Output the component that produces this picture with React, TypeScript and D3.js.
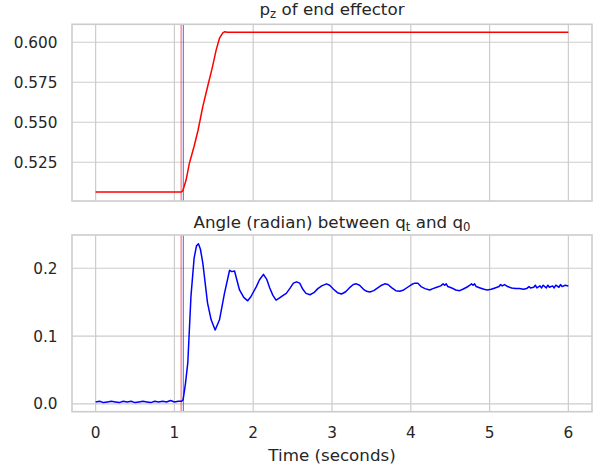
import React from "react";
import * as d3 from "d3";

// end effector z-position over time
const pzSeries: [number, number][] = [
  [0.0, 0.5064], [0.5, 0.5064], [1.0, 0.5064], [1.085, 0.5064], [1.106, 0.5072],
  [1.148, 0.5139], [1.19, 0.5244], [1.25, 0.535], [1.3, 0.545], [1.36, 0.5598],
  [1.42, 0.572], [1.48, 0.584], [1.53, 0.5952], [1.572, 0.6025], [1.614, 0.6058],
  [1.64, 0.6066], [1.67, 0.6063], [1.7, 0.6062], [2.0, 0.6062], [3.0, 0.6062], [4.0, 0.6062],
  [5.0, 0.6062], [6.0, 0.6062],
];

// angle between q_t and q_0 over time
const angleSeries: [number, number][] = [
  [0.0, 0.003], [0.05, 0.004], [0.1, 0.002], [0.15, 0.003], [0.2, 0.004], [0.25, 0.003],
  [0.3, 0.002], [0.35, 0.004], [0.4, 0.003], [0.45, 0.004], [0.5, 0.002], [0.55, 0.003],
  [0.6, 0.004], [0.65, 0.003], [0.7, 0.002], [0.75, 0.004], [0.8, 0.003], [0.85, 0.004],
  [0.9, 0.003], [0.95, 0.005], [1.0, 0.003], [1.05, 0.004], [1.09, 0.004], [1.11, 0.006],
  [1.14, 0.03], [1.17, 0.061], [1.21, 0.159], [1.25, 0.215], [1.28, 0.233], [1.305, 0.236],
  [1.33, 0.228], [1.36, 0.208], [1.42, 0.149], [1.466, 0.124], [1.517, 0.109], [1.572, 0.124],
  [1.635, 0.163], [1.7, 0.197], [1.73, 0.195], [1.763, 0.196], [1.826, 0.168], [1.88, 0.157],
  [1.93, 0.152], [1.97, 0.158], [2.04, 0.173], [2.08, 0.183], [2.13, 0.191], [2.17, 0.184],
  [2.21, 0.171], [2.25, 0.16], [2.29, 0.153], [2.33, 0.156], [2.38, 0.16], [2.42, 0.163],
  [2.47, 0.171], [2.51, 0.178], [2.55, 0.18], [2.59, 0.178], [2.63, 0.169], [2.67, 0.163],
  [2.72, 0.161], [2.77, 0.164], [2.82, 0.17], [2.87, 0.174], [2.93, 0.177], [2.97, 0.175],
  [3.02, 0.169], [3.07, 0.164], [3.12, 0.162], [3.17, 0.165], [3.22, 0.171], [3.27, 0.176],
  [3.31, 0.177], [3.35, 0.175], [3.4, 0.169], [3.44, 0.166], [3.48, 0.165], [3.53, 0.167],
  [3.58, 0.171], [3.63, 0.175], [3.67, 0.177], [3.71, 0.176], [3.76, 0.171], [3.81, 0.167],
  [3.86, 0.166], [3.91, 0.168], [3.96, 0.172], [4.01, 0.176], [4.05, 0.178], [4.09, 0.178],
  [4.13, 0.173], [4.18, 0.17], [4.24, 0.168], [4.28, 0.17], [4.33, 0.172], [4.38, 0.174],
  [4.41, 0.177], [4.43, 0.175], [4.45, 0.177], [4.47, 0.173], [4.52, 0.171], [4.57, 0.168],
  [4.62, 0.167], [4.66, 0.169], [4.71, 0.172], [4.75, 0.175], [4.77, 0.177], [4.79, 0.175],
  [4.81, 0.177], [4.83, 0.173], [4.88, 0.171], [4.93, 0.169], [4.97, 0.168], [5.02, 0.169],
  [5.07, 0.171], [5.12, 0.173], [5.14, 0.176], [5.16, 0.174], [5.19, 0.176], [5.23, 0.173],
  [5.28, 0.171], [5.33, 0.17], [5.38, 0.17], [5.43, 0.169], [5.47, 0.17], [5.5, 0.173],
  [5.52, 0.171], [5.56, 0.172], [5.58, 0.175], [5.6, 0.171], [5.64, 0.174], [5.66, 0.171],
  [5.68, 0.175], [5.72, 0.171], [5.74, 0.175], [5.76, 0.172], [5.8, 0.174], [5.82, 0.171],
  [5.84, 0.175], [5.88, 0.172], [5.9, 0.176], [5.92, 0.173], [5.96, 0.175], [6.0, 0.174],
];

const xTicks = [0, 1, 2, 3, 4, 5, 6];
const pzTicks = [0.525, 0.55, 0.575, 0.6];
const angleTicks = [0.0, 0.1, 0.2];
const markerTimes = [1.085, 1.113];
const markerColors = ["#ff3030", "#3030ff"];

const W = 600;
const H = 472;
const left = 72;
const right = 592;
const top1 = 24.3;
const bottom1 = 201;
const top2 = 235;
const bottom2 = 411.7;

const font = "DejaVu Sans, sans-serif";
const textColor = "#262626";
const gridColor = "#cccccc";

const x = d3.scaleLinear().domain([-0.3, 6.3]).range([left, right]);
const yPz = d3.scaleLinear().domain([0.5008, 0.6112]).range([bottom1, top1]);
const yAngle = d3.scaleLinear().domain([-0.0114, 0.249]).range([bottom2, top2]);

const Panel = ({ id, y, yTicks, fmt, series, color, top, bottom }) => {
  const line = d3
    .line<[number, number]>()
    .x(d => x(d[0]))
    .y(d => y(d[1]));
  return (
    <g>
      <defs>
        <clipPath id={id}>
          <rect x={left} y={top} width={right - left} height={bottom - top} />
        </clipPath>
      </defs>
      {xTicks.map(t => (
        <line key={"gx" + t} x1={x(t)} x2={x(t)} y1={top} y2={bottom} stroke={gridColor} strokeWidth={1.2} />
      ))}
      {yTicks.map(t => (
        <line key={"gy" + t} x1={left} x2={right} y1={y(t)} y2={y(t)} stroke={gridColor} strokeWidth={1.2} />
      ))}
      {yTicks.map(t => (
        <text key={"ty" + t} x={57.5} y={y(t)} dy="0.36em" textAnchor="end" fontSize={15.3} fill={textColor}>
          {d3.format(fmt)(t)}
        </text>
      ))}
      <g clipPath={`url(#${id})`}>
        {markerTimes.map((t, i) => (
          <line key={"m" + t} x1={x(t)} x2={x(t)} y1={top} y2={bottom} stroke={markerColors[i]} strokeWidth={0.8} />
        ))}
        <path d={line(series) || ""} fill="none" stroke={color} strokeWidth={1.5} strokeLinejoin="round" />
      </g>
      <rect x={left} y={top} width={right - left} height={bottom - top} fill="none" stroke={gridColor} strokeWidth={1.6} />
    </g>
  );
};

export default function App() {
  const cx = (left + right) / 2;
  return (
    <svg
      width={W}
      height={H}
      style={{ position: "absolute", left: 0, top: 0, background: "#fff" }}
      fontFamily={font}
    >
      <rect width={W} height={H} fill="#fff" />
      <Panel id="clip-pz" y={yPz} yTicks={pzTicks} fmt=".3f" series={pzSeries} color="#ff0000" top={top1} bottom={bottom1} />
      <Panel id="clip-ang" y={yAngle} yTicks={angleTicks} fmt=".1f" series={angleSeries} color="#0000ff" top={top2} bottom={bottom2} />

      <text x={cx} y={15.3} textAnchor="middle" fontSize={16.7} fill={textColor}>
        p<tspan fontSize={11.7} dy={3}>z</tspan>
        <tspan dy={-3}> of end effector</tspan>
      </text>
      <text x={cx} y={228} textAnchor="middle" fontSize={16.7} fill={textColor}>
        Angle (radian) between q<tspan fontSize={11.7} dy={3}>t</tspan>
        <tspan dy={-3}> and q</tspan>
        <tspan fontSize={11.7} dy={3}>0</tspan>
      </text>

      {xTicks.map(t => (
        <text key={"tx" + t} x={x(t)} y={437.5} textAnchor="middle" fontSize={15.3} fill={textColor}>
          {t}
        </text>
      ))}
      <text x={cx} y={461} textAnchor="middle" fontSize={16.7} fill={textColor}>
        Time (seconds)
      </text>
    </svg>
  );
}
